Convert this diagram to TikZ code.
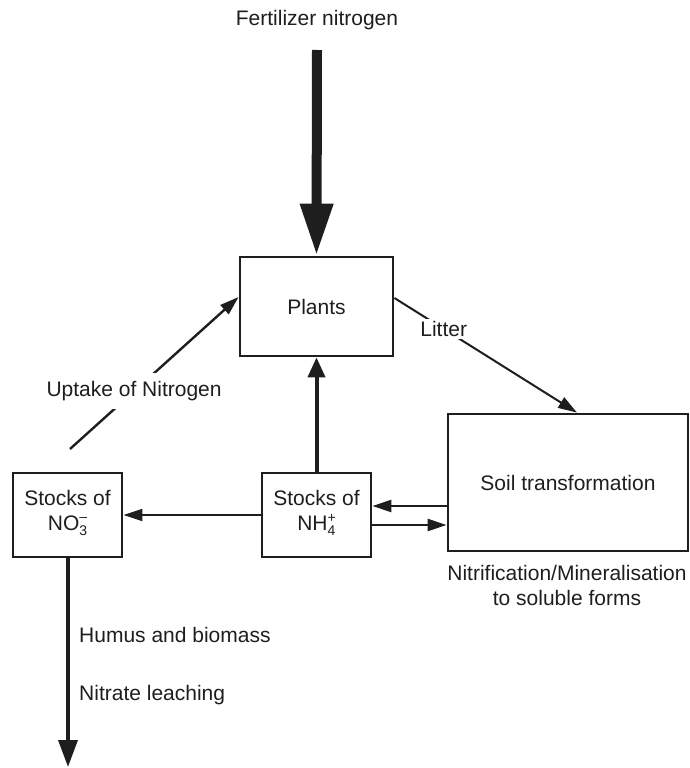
\documentclass[tikz,border=0pt]{standalone}
\usepackage{fontspec}
\setmainfont{Liberation Sans}
\usetikzlibrary{arrows.meta}
\definecolor{ink}{RGB}{30,30,30}
\newcommand{\chemion}[3]{#1\raisebox{-5pt}{\fontsize{14}{13}\selectfont\begin{tabular}[b]{@{}l@{}}#2\\#3\end{tabular}}}
\begin{document}
\begin{tikzpicture}[x=1pt,y=-1pt,
  every node/.style={font=\fontsize{21}{25}\selectfont, text=ink},
  box/.style={draw=ink, line width=2.8pt, align=center, inner sep=0pt},
  lbl/.style={inner sep=0pt},
  arr/.style={draw=ink, line width=2.4pt, -{Triangle[length=19pt,width=12pt]}},
  thickarr/.style={draw=ink, line width=4pt, -{Triangle[length=20pt,width=17pt]}}
]
\useasboundingbox (0,0) rectangle (690,768);

\node[box, minimum width=153pt, minimum height=99pt] (plants) at (316.5,306.5) {Plants};
\node[box, minimum width=109pt, minimum height=84pt] (no3) at (67.5,515) {Stocks of\\\chemion{NO}{--}{3}};
\node[box, minimum width=109pt, minimum height=84pt] (nh4) at (316.5,515) {Stocks of\\\chemion{NH}{+}{4}};
\node[box, minimum width=240pt, minimum height=137pt] (soil) at (568,482.5) {};
\node[lbl] (soiltxt) at (568,483) {Soil transformation};

\node[lbl] (fert) at (317,20) {Fertilizer nitrogen};
\coordinate (fertstart) at (317,50);
\draw[draw=ink, line width=10pt, -{Triangle[length=52pt,width=31pt]}] (fertstart) -- (plants.north);

\node[lbl, align=center] (nitri) at (567,585.5) {Nitrification/Mineralisation\\to soluble forms};

% NH4 -> Plants
\draw[thickarr] (nh4.north) -- (plants.south);

% Uptake
\coordinate (upstart) at (70,449);
\draw[arr] (upstart) -- node[pos=0.38, fill=white, inner xsep=3pt, inner ysep=8pt] (uptake) {Uptake of Nitrogen} (plants.west |- 0,297);

% Litter
\draw[arr, line width=2pt] (plants.east |- 0,298) -- node[pos=0.27, fill=white, inner sep=2pt] (litter) {Litter} (soil.north -| 577,0);

% NH4 <-> soil
\draw[arr] (soil.west |- 0,506) -- (nh4.east |- 0,506);
\draw[arr] (nh4.east |- 0,525) -- (soil.west |- 0,525);

% NH4 -> NO3
\draw[arr, line width=2pt] (nh4.west) -- (no3.east);

% NO3 down
\coordinate (leachend) at (68,767);
\draw[draw=ink, line width=3.6pt, -{Triangle[length=27pt,width=19pt]}] (no3.south -| 68,0) -- (leachend);
\node[lbl, anchor=west] (humus) at (79,635) {Humus and biomass};
\node[lbl, anchor=west] (leach) at (79,695) {Nitrate leaching};
\end{tikzpicture}
\end{document}
